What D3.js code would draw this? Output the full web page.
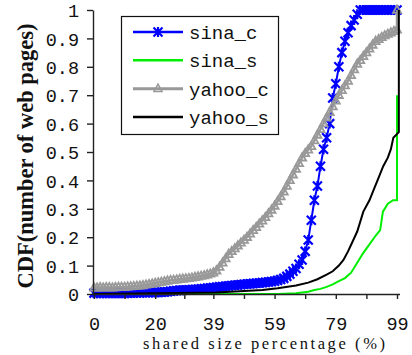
<!DOCTYPE html>
<html>
<head>
<meta charset="utf-8">
<script src="https://cdn.jsdelivr.net/npm/d3@7"></script>
<style>
  body { margin: 0; background: #fff; }
  svg { display: block; }
</style>
</head>
<body>
<svg id="chart" width="412" height="355"></svg>
<script>
// x grid for the two marked series (shared size percentage)
const xs = d3.range(0, 100);

const sinaC = [
  .003, .003, .003, .003, .003, .003, .003, .003, .003, .003,
  .003, .003, .004, .004, .004, .004, .005, .005, .005, .005,
  .005, .006, .006, .007, .008, .010, .011, .012, .013, .013,
  .014, .015, .015, .016, .017, .018, .019, .020, .021, .023,
  .024, .025, .026, .027, .028, .030, .031, .032, .033, .034,
  .035, .036, .037, .038, .039, .040, .041, .042, .044, .045,
  .048, .051, .055, .062, .070, .080, .090, .105, .120, .150,
  .190, .260, .330, .380, .450, .510, .550, .600, .690, .740,
  .800, .850, .890, .920, .945, .965, .985, 1, 1, 1,
  1, 1, 1, 1, 1, 1, 1, 1, 1, 1
];

const yahooCX = xs.concat([99]);
const yahooC = [
  .022, .022, .023, .022, .023, .023, .022, .023, .024, .024,
  .024, .025, .026, .027, .028, .029, .030, .032, .034, .036,
  .038, .040, .042, .044, .046, .048, .049, .050, .052, .053,
  .054, .055, .057, .059, .061, .063, .065, .068, .071, .075,
  .082, .095, .110, .125, .140, .150, .160, .170, .180, .190,
  .200, .212, .224, .235, .247, .258, .270, .283, .296, .310,
  .326, .343, .360, .380, .400, .420, .440, .460, .480, .495,
  .508, .520, .540, .560, .580, .600, .620, .640, .660, .680,
  .700, .717, .734, .750, .770, .790, .810, .823, .837, .850,
  .863, .877, .890, .897, .904, .910, .915, .920, .925, .930,
  1
];

const sinaSX = [0, 60, 66, 70, 72, 74, 76, 78, 80, 82, 84, 86, 88, 90, 92, 93.5, 94.4, 96, 97.7, 99, 99];
const sinaS = [0, 0, .003, .008, .014, .018, .025, .034, .045, .056, .075, .11, .145, .175, .205, .225, .29, .318, .33, .33, .70];

const yahooSX = [0, 40, 55, 60, 66, 70, 73, 76, 78, 80, 81.5, 83, 84.5, 86, 88, 90, 91.5, 93, 94.5, 96, 97, 97.8, 99.6, 99.6];
const yahooS = [0, .005, .014, .02, .03, .04, .052, .068, .08, .1, .12, .15, .185, .22, .29, .33, .37, .41, .45, .48, .51, .55, .57, 1];

const xTickVals = [0, 10, 20, 29.5, 39, 49, 59, 69, 79, 89, 99];
const xLabels = [0, 20, 39, 59, 79, 99];
const yTickVals = [0, 0.1, 0.2, 0.3, 0.4, 0.5, 0.6, 0.7, 0.8, 0.9, 1];

const legendNames = ['sina_c', 'sina_s', 'yahoo_c', 'yahoo_s'];

const svg = d3.select('#chart');

const x = d3.scaleLinear().domain([0, 99]).range([94, 397]);
const y = d3.scaleLinear().domain([0, 1]).range([294, 10]);

const starPath = 'M-4.5,-4.5L4.5,4.5M-4.5,4.5L4.5,-4.5M0,-5L0,5';
const triPath = 'M0,-4.5L4,2.8L-4,2.8Z';

const series = [
  { name: 'sina_c', xv: xs, yv: sinaC, color: '#0000ff', width: 2, marker: 'star' },
  { name: 'sina_s', xv: sinaSX, yv: sinaS, color: '#00ee00', width: 2, marker: null },
  { name: 'yahoo_c', xv: yahooCX, yv: yahooC, color: '#999999', width: 2.5, marker: 'tri' },
  { name: 'yahoo_s', xv: yahooSX, yv: yahooS, color: '#000000', width: 2, marker: null }
];

const line = d3.line()
  .x(d => x(d[0]))
  .y(d => y(d[1]));

series.forEach(s => {
  const pts = s.xv.map((v, i) => [v, s.yv[i]]);
  svg.append('path')
    .attr('d', line(pts))
    .attr('fill', 'none')
    .attr('stroke', s.color)
    .attr('stroke-width', s.width);

  if (s.marker) {
    svg.append('g').selectAll('path')
      .data(pts)
      .enter()
      .append('path')
      .attr('transform', d => `translate(${x(d[0])},${y(d[1])})`)
      .attr('d', s.marker === 'star' ? starPath : triPath)
      .attr('fill', 'none')
      .attr('stroke', s.color)
      .attr('stroke-width', s.marker === 'star' ? 2.2 : 1.8);
  }
});

// axes
const xAxis = d3.axisBottom(x)
  .tickValues(xTickVals)
  .tickSize(5)
  .tickSizeOuter(0)
  .tickFormat(d => xLabels.includes(d) ? d : '');
const gx = svg.append('g')
  .attr('transform', `translate(0,${y(0)})`)
  .call(xAxis);
gx.select('.domain').attr('d', `M93,0.5H400`);

const yAxis = d3.axisLeft(y)
  .tickValues(yTickVals)
  .tickSize(6)
  .tickSizeOuter(0)
  .tickFormat(d3.format('~g'));
const gy = svg.append('g')
  .attr('transform', 'translate(93,0)')
  .call(yAxis);

[gx, gy].forEach(g => {
  g.select('.domain').attr('stroke', '#222').attr('stroke-width', 1.4);
  g.selectAll('.tick line').attr('stroke', '#222').attr('stroke-width', 1.4);
  g.selectAll('.tick text')
    .attr('fill', '#111')
    .attr('font-family', 'Liberation Mono, monospace')
    .attr('font-size', 18.5);
});
gx.selectAll('.tick text').attr('y', 0).attr('dy', 36);
gy.selectAll('.tick text').attr('x', -14).attr('dy', '0.36em');

// axis titles
svg.append('text')
  .attr('x', 264)
  .attr('y', 349)
  .attr('text-anchor', 'middle')
  .attr('font-family', 'Liberation Serif, serif')
  .attr('font-size', 16.5)
  .attr('textLength', 242)
  .attr('fill', '#111')
  .text('shared size percentage (%)');

svg.append('text')
  .attr('transform', 'translate(33,156) rotate(-90)')
  .attr('text-anchor', 'middle')
  .attr('font-family', 'Liberation Serif, serif')
  .attr('font-weight', 'bold')
  .attr('font-size', 22.5)
  .attr('fill', '#111')
  .text('CDF(number of web pages)');

// legend
const legend = svg.append('g');
legend.append('rect')
  .attr('x', 121.5).attr('y', 16.5)
  .attr('width', 157).attr('height', 118)
  .attr('fill', '#fff')
  .attr('stroke', '#111')
  .attr('stroke-width', 1.2);

const legendY = d3.scalePoint().domain(legendNames).range([32, 117]);

series.forEach(s => {
  const ly = legendY(s.name);
  legend.append('line')
    .attr('x1', 133).attr('x2', 183)
    .attr('y1', ly).attr('y2', ly)
    .attr('stroke', s.color)
    .attr('stroke-width', s.width + 0.5);
  if (s.marker) {
    legend.append('path')
      .attr('transform', `translate(158,${ly})`)
      .attr('d', s.marker === 'star' ? starPath : triPath)
      .attr('fill', 'none')
      .attr('stroke', s.color)
      .attr('stroke-width', s.marker === 'star' ? 2.2 : 1.5);
  }
  legend.append('text')
    .attr('x', 189)
    .attr('y', ly + 7)
    .attr('font-family', 'Liberation Mono, monospace')
    .attr('font-size', 19)
    .attr('fill', '#111')
    .text(s.name);
});
</script>
</body>
</html>
